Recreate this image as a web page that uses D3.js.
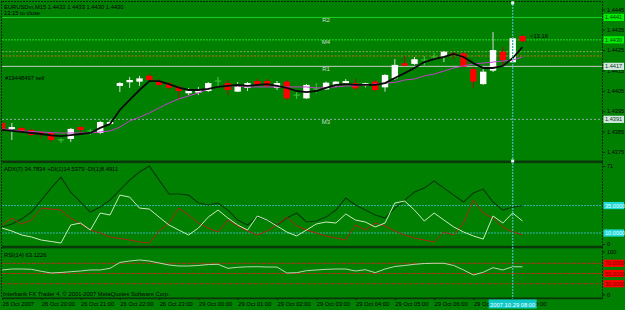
<!DOCTYPE html>
<html><head><meta charset="utf-8">
<script src="https://cdn.jsdelivr.net/npm/d3@7"></script>
<style>html,body{margin:0;padding:0;background:#008000;overflow:hidden}svg{display:block}</style>
</head><body><svg id="c" width="625" height="310"></svg>
<script>
// ---------- DATA ----------
const opens=[1.43892,1.43863,1.43868,1.43858,1.43848,1.43843,1.43809,1.43814,1.43872,1.43853,1.43843,1.43887,1.44074,1.44092,1.44095,1.44124,1.44098,1.44087,1.44070,1.44038,1.44041,1.44049,1.44098,1.44088,1.44046,1.44064,1.44098,1.44098,1.44064,1.44095,1.44029,1.44013,1.44059,1.44057,1.44079,1.44087,1.44087,1.44074,1.44095,1.44067,1.44111,1.44185,1.44182,1.44201,1.44216,1.44217,1.44234,1.44234,1.44156,1.44083,1.44149,1.44242,1.44190,1.44319];
const highs=[1.43902,1.43892,1.43872,1.43863,1.43853,1.43853,1.43818,1.43868,1.43877,1.43863,1.43902,1.43907,1.44093,1.44118,1.44123,1.44132,1.44108,1.44093,1.44074,1.44064,1.44069,1.44093,1.44118,1.44103,1.44093,1.44093,1.44108,1.44108,1.44098,1.44103,1.44044,1.44083,1.44088,1.44095,1.44098,1.44108,1.44108,1.44090,1.44103,1.44132,1.44206,1.44221,1.44216,1.44221,1.44236,1.44245,1.44240,1.44240,1.44168,1.44162,1.44339,1.44266,1.44314,1.44324];
const lows=[1.43843,1.43809,1.43843,1.43828,1.43818,1.43799,1.43794,1.43799,1.43833,1.43833,1.43838,1.43882,1.44044,1.44064,1.44074,1.44098,1.44074,1.44059,1.44005,1.44029,1.44029,1.44044,1.44069,1.44029,1.44044,1.44049,1.44074,1.44064,1.44054,1.44005,1.44010,1.44010,1.44039,1.44054,1.44069,1.44083,1.44054,1.44067,1.44046,1.44046,1.44103,1.44172,1.44177,1.44167,1.44201,1.44191,1.44206,1.44167,1.44064,1.44079,1.44142,1.44177,1.44187,1.44290];
const closes=[1.43853,1.43872,1.43848,1.43833,1.43833,1.43809,1.43809,1.43863,1.43858,1.43853,1.43897,1.43897,1.44088,1.44103,1.44111,1.44103,1.44079,1.44065,1.44049,1.44051,1.44059,1.44088,1.44098,1.44054,1.44070,1.44088,1.44079,1.44074,1.44088,1.44013,1.44029,1.44079,1.44059,1.44090,1.44095,1.44098,1.44062,1.44087,1.44054,1.44128,1.44177,1.44173,1.44205,1.44201,1.44216,1.44242,1.44226,1.44168,1.44095,1.44144,1.44250,1.44201,1.44308,1.44293];
const maFast=[1.43858,1.43853,1.43848,1.43843,1.43838,1.43831,1.43828,1.43833,1.43838,1.43843,1.43868,1.43887,1.43956,1.44005,1.44054,1.44098,1.44098,1.44083,1.44066,1.44054,1.44054,1.44059,1.44069,1.44074,1.44079,1.44074,1.44079,1.44083,1.44074,1.44064,1.44049,1.44044,1.44049,1.44064,1.44079,1.44083,1.44079,1.44079,1.44079,1.44088,1.44113,1.44137,1.44162,1.44191,1.44206,1.44216,1.44231,1.44216,1.44186,1.44162,1.44162,1.44172,1.44211,1.44265];
const maSlow=[1.43863,1.43858,1.43853,1.43850,1.43848,1.43845,1.43843,1.43843,1.43843,1.43843,1.43848,1.43853,1.43872,1.43902,1.43921,1.43941,1.43966,1.43990,1.44010,1.44025,1.44039,1.44059,1.44069,1.44074,1.44074,1.44069,1.44069,1.44069,1.44069,1.44069,1.44069,1.44069,1.44064,1.44066,1.44069,1.44074,1.44074,1.44079,1.44083,1.44088,1.44091,1.44103,1.44108,1.44123,1.44132,1.44147,1.44162,1.44172,1.44182,1.44186,1.44191,1.44196,1.44201,1.44216];
const adxMain=[15.5,18.2,22.7,29.1,40.0,50.9,60.9,47.3,38.2,29.1,33.6,40.0,49.1,58.2,65.5,70.9,58.2,45.5,45.5,44.5,37.3,35.5,37.3,30.9,21.8,17.3,24.5,21.8,17.3,23.6,28.2,20.0,20.9,24.5,30.9,41.8,35.5,30.9,26.4,23.6,32.7,40.0,47.3,50.9,57.3,50.9,44.5,38.2,46.4,50.0,38.2,30.9,33.6,34.8];
const plusDI=[14.5,11.8,8.2,6.4,3.6,2.3,0.9,17.3,19.1,12.7,28.2,26.4,44.5,42.7,32.7,31.8,24.5,17.3,12.7,8.2,14.5,24.5,30.9,23.6,17.3,12.7,25.5,21.8,16.4,10.9,7.3,12.7,18.2,20.0,19.1,27.3,21.8,20.0,15.5,19.1,37.3,39.1,30.9,20.9,28.2,21.8,15.5,10.9,7.3,4.5,25.5,19.1,28.2,20.9];
const minusDI=[17.3,23.6,18.2,21.8,32.7,31.8,30.9,23.6,18.2,12.7,10.0,6.4,5.0,3.6,1.8,0.9,11.8,19.1,32.7,26.4,19.1,14.5,10.9,21.8,16.4,11.8,8.2,11.8,17.3,24.5,16.4,12.7,10.0,7.3,5.5,3.6,17.3,12.7,19.1,16.4,11.8,8.2,5.5,3.6,1.8,10.9,8.2,19.1,40.0,28.2,23.6,15.5,10.9,8.5];
const rsiValues=[56.9,58.8,58.8,58.2,54.3,51.0,52.0,53.5,54.9,56.9,56.9,60.2,71.6,74.5,76.5,74.5,70.6,66.7,64.7,64.7,65.7,67.6,68.0,60.2,62.2,63.1,63.3,62.7,62.7,51.0,51.6,55.5,56.9,58.2,58.8,58.8,54.9,57.5,51.6,58.8,63.7,65.7,68.0,69.6,70.0,70.0,65.7,56.9,47.1,52.4,61.4,56.9,63.3,63.1];
const priceTicks=[1.4375,1.4385,1.4395,1.4405,1.4415,1.4425,1.4435,1.4445];
const pivotNames=["R2","M4","R1","M3"];
const pivotValues=[1.4441,1.4430,1.4417,1.4391];
const extraLevels=[1.44242,1.44221];
const adxTicks=[0,71];
const adxLevels=[35,10];
const rsiTicks=[0,100];
const rsiLevels=[70,50,30];
const timeTickBars=[0,4,8,12,16,20,24,28,32,36,40,44,48,52];
const timeTickLabels=["26 Oct 2007","26 Oct 20:00","26 Oct 21:00","26 Oct 22:00","26 Oct 23:00","29 Oct 00:00","29 Oct 01:00","29 Oct 02:00","29 Oct 03:00","29 Oct 04:00","29 Oct 05:00","29 Oct 06:00","29 Oct 07:00","29 Oct 08:00"];
const cursorBar=52;
const cursorLabel="2007.10.29 08:00";
const titleText="EURUSDm,M15  1.4433 1.4433 1.4430 1.4430";
const closeText="13:15 to close";
const barTimer="<13:16";
const orderText="#19448497 sell";
const adxText="ADX(7) 34.7834 +DI(1)14.5379 -DI(1)8.4911";
const rsiText="RSI(14) 63.1226";
const copyText="Interbank FX Trader 4, \u00A9 2001-2007 MetaQuotes Software Corp.";

// ---------- LAYOUT ----------
const L=2, R=602, FONT="Liberation Sans, Arial, sans-serif", FS=5.8;
const mainTop=2, mainBot=160.5, adxTop=163, adxBot=246, rsiTop=248.5, rsiBot=297.5;
const svg=d3.select("#c");
svg.append("rect").attr("width",625).attr("height",310).attr("fill","#008000");

const x=d3.scaleLinear().domain([0,53]).range([2,522.5]);
const y=d3.scaleLinear().domain([1.4375,1.4445]).range([151.95,9.29]);
const ya=d3.scaleLinear().domain([0,71]).range([244,166]);
const yr=d3.scaleLinear().domain([0,100]).range([299,248]);

const defs=svg.append("defs");
function clip(id,y0,y1){defs.append("clipPath").attr("id",id).append("rect").attr("x",L).attr("y",y0).attr("width",R-L).attr("height",y1-y0);}
clip("cm",mainTop,mainBot);clip("ca",adxTop,adxBot);clip("cr",rsiTop,rsiBot);

// ---------- MAIN PANEL ----------
const gm=svg.append("g").attr("clip-path","url(#cm)");
const pivStyle=[{c:"#22d022",d:null},{c:"#22dd22",d:"2,1"},{c:"#c8c8c8",d:null},{c:"#8fb0a8",d:"2,2"}];
pivotValues.forEach((v,i)=>{
  gm.append("line").attr("x1",L).attr("x2",R).attr("y1",y(v)).attr("y2",y(v))
    .attr("stroke",pivStyle[i].c).attr("stroke-width",1).attr("stroke-dasharray",pivStyle[i].d);
  gm.append("text").attr("x",326).attr("y",y(v)+4.5).attr("text-anchor","middle")
    .attr("font-family",FONT).attr("font-size",6).attr("fill","#d0dcd0").text(pivotNames[i]);
});
const exStyle=["#78b050","#d07018"];
extraLevels.forEach((v,i)=>{
  gm.append("line").attr("x1",L).attr("x2",R).attr("y1",y(v)).attr("y2",y(v))
    .attr("stroke",exStyle[i]).attr("stroke-width",1).attr("stroke-dasharray","2,1.5");
});

const bars=d3.range(opens.length).map(i=>({i,o:opens[i],h:highs[i],l:lows[i],c:closes[i]}));
const bw=6.4;
bars.forEach(b=>{
  const cx=x(b.i);
  const doji=b.o===b.c, up=b.c>b.o;
  const wick=doji?"#40c840":(up?"#d8d8d8":"#a01010");
  gm.append("line").attr("x1",cx).attr("x2",cx).attr("y1",y(b.h)).attr("y2",y(b.l)).attr("stroke",wick).attr("stroke-width",1);
  if(doji){
    gm.append("line").attr("x1",cx-bw/2).attr("x2",cx+bw/2).attr("y1",y(b.o)).attr("y2",y(b.o)).attr("stroke","#40c840").attr("stroke-width",1);
  } else {
    const t=y(Math.max(b.o,b.c)), bt=y(Math.min(b.o,b.c));
    gm.append("rect").attr("x",cx-bw/2).attr("y",t).attr("width",bw).attr("height",Math.max(1.5,bt-t))
      .attr("fill",up?"#ffffff":"#ff0000");
  }
});
const lineMain=arr=>d3.line().x((d,i)=>x(i)).y(d=>y(d))(arr);
gm.append("path").attr("d",lineMain(maSlow)).attr("fill","none").attr("stroke","#c040c8").attr("stroke-width",1);
gm.append("path").attr("d",lineMain(maFast)).attr("fill","none").attr("stroke","#0a0a0a").attr("stroke-width",1.8);

function txt(t,xx,yy,opt={}){
  return svg.append("text").attr("x",xx).attr("y",yy).attr("font-family",FONT).attr("font-size",opt.fs||FS)
   .attr("fill",opt.fill||"#000").attr("text-anchor",opt.anchor||"start").text(t);
}
txt(titleText,4,8.5);
txt(closeText,4,15);
txt(orderText,5,80);
txt(barTimer,530,38);

// ---------- ADX PANEL ----------
const ga=svg.append("g").attr("clip-path","url(#ca)");
adxLevels.forEach(v=>{
  ga.append("line").attr("x1",L).attr("x2",R).attr("y1",ya(v)).attr("y2",ya(v))
    .attr("stroke","#30b4b0").attr("stroke-width",1).attr("stroke-dasharray","2,1");
});
const lineA=arr=>d3.line().x((d,i)=>x(i)).y(d=>ya(d))(arr);
ga.append("path").attr("d",lineA(adxMain)).attr("fill","none").attr("stroke","#043a04").attr("stroke-width",1.1);
ga.append("path").attr("d",lineA(minusDI)).attr("fill","none").attr("stroke","#b02418").attr("stroke-width",1);
ga.append("path").attr("d",lineA(plusDI)).attr("fill","none").attr("stroke","#c8ecc0").attr("stroke-width",1);
txt(adxText,4,171);

// ---------- RSI PANEL ----------
const gr=svg.append("g").attr("clip-path","url(#cr)");
rsiLevels.forEach((v,i)=>{
  gr.append("line").attr("x1",L).attr("x2",R).attr("y1",yr(v)).attr("y2",yr(v))
    .attr("stroke","#b03018").attr("stroke-width",1).attr("stroke-dasharray",i===2?"2,1":"4,1");
});
gr.append("path").attr("d",d3.line().x((d,i)=>x(i)).y(d=>yr(d))(rsiValues)).attr("fill","none").attr("stroke","#b8d8b0").attr("stroke-width",1);
txt(rsiText,4,257);
txt(copyText,3,296);

// ---------- FRAMES ----------
[[160.5,2.6],[245.8,2.5],[297.4,1.8]].forEach(([yy,h])=>{
  svg.append("rect").attr("x",L).attr("y",yy).attr("width",R-L+1).attr("height",h).attr("fill","#0a3a0a");
});
svg.append("line").attr("x1",L).attr("x2",R).attr("y1",1.5).attr("y2",1.5).attr("stroke","#0a2a0a").attr("stroke-dasharray","2,1");
svg.append("line").attr("x1",1.5).attr("x2",1.5).attr("y1",1).attr("y2",298).attr("stroke","#0a2a0a").attr("stroke-dasharray","2,1");
svg.append("line").attr("x1",R+0.5).attr("x2",R+0.5).attr("y1",1).attr("y2",299).attr("stroke","#0a2a0a").attr("stroke-dasharray","2,1");

// ---------- CURSOR ----------
const cx=x(cursorBar);
svg.append("line").attr("x1",cx).attr("x2",cx).attr("y1",1).attr("y2",299).attr("stroke","#38b8a8").attr("stroke-width",1.4).attr("stroke-dasharray","2,1");
[3,161].forEach(yy=>svg.append("rect").attr("x",cx-1.5).attr("y",yy-1.5).attr("width",3).attr("height",3).attr("fill","#e8fff8"));

// ---------- AXES ----------
function styleAxis(g){
  g.select(".domain").remove();
  g.selectAll(".tick line").attr("stroke","#0a2a0a");
  g.selectAll(".tick text").attr("fill","#000").attr("font-family",FONT).attr("font-size",5.6);
}
svg.append("g").attr("transform",`translate(${R},0)`)
  .call(d3.axisRight(y).tickValues(priceTicks).tickFormat(d3.format(".4f")).tickSize(3).tickPadding(2))
  .call(styleAxis);
svg.append("g").attr("transform",`translate(${R},0)`)
  .call(d3.axisRight(ya).tickValues(adxTicks).tickFormat(d3.format("d")).tickSize(3).tickPadding(2))
  .call(styleAxis);
const rAxis=svg.append("g").attr("transform",`translate(${R},0)`)
  .call(d3.axisRight(yr).tickValues(rsiTicks).tickFormat(d3.format("d")).tickSize(3).tickPadding(2))
  .call(styleAxis);
// MT4 draws the 0/100 labels inside the subwindow edges
rAxis.selectAll("g.tick").filter(d=>d===100).attr("transform",`translate(0,${yr(92)})`);
rAxis.selectAll("g.tick").filter(d=>d===0).attr("transform",`translate(0,${yr(8)})`);

const tg=svg.append("g").attr("transform","translate(0,298)")
  .call(d3.axisBottom(x).tickValues(timeTickBars).tickFormat((d,i)=>timeTickLabels[i]).tickSize(2).tickPadding(2))
  .call(styleAxis);
tg.selectAll(".tick text").attr("text-anchor","start").attr("font-size",5.8);

// level boxes on right axis
function box(v,scale,label,fill,tfill){
  const yy=scale(v);
  svg.append("rect").attr("x",R+1.5).attr("y",yy-3.6).attr("width",20.5).attr("height",7.2).attr("fill",fill);
  svg.append("text").attr("x",R+3).attr("y",yy+2).attr("font-family",FONT).attr("font-size",5.6).attr("fill",tfill).text(label);
}
const pivFill=["#00f000","#00f000","#d0e8e0","#d0e8e0"];
pivotValues.forEach((v,i)=>box(v,y,d3.format(".4f")(v),pivFill[i],"#0a3a0a"));
adxLevels.forEach(v=>box(v,ya,d3.format(".4f")(v),"#20d8d8","#e8ffff"));
rsiLevels.forEach(v=>box(v,yr,d3.format(".4f")(v),"#ff0000","#7a0000"));

// cursor date box
svg.append("rect").attr("x",cx-24).attr("y",299.5).attr("width",48).attr("height",9).attr("fill","#10c8c8");
svg.append("text").attr("x",cx).attr("y",306.5).attr("text-anchor","middle").attr("font-family",FONT).attr("font-size",5.8).attr("fill","#f0ffff").text(cursorLabel);
</script></body></html>
